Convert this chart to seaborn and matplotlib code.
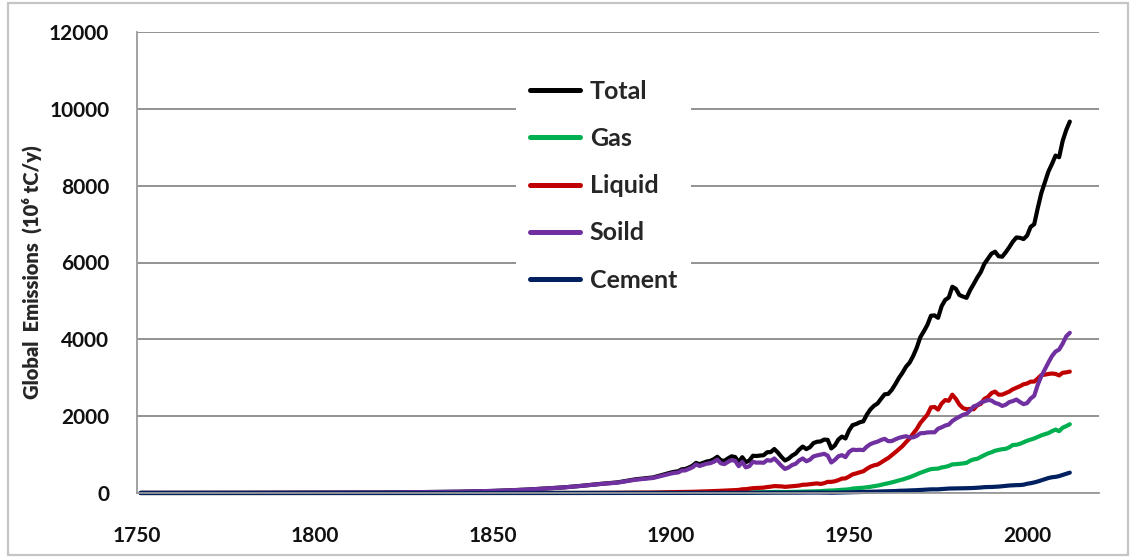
import numpy as np
import pandas as pd
import seaborn as sns
import matplotlib
matplotlib.use("Agg")
import matplotlib.pyplot as plt
from matplotlib.patches import Rectangle

# Global fossil-fuel carbon emissions by source (million tonnes C per year)
years = ([1751, 1760, 1770, 1780, 1790, 1800, 1810, 1820, 1830, 1840,
          1850, 1855, 1860, 1865, 1870, 1875, 1880, 1885, 1890, 1895]
         + list(range(1900, 2013)))

total = [3, 3, 4, 5, 7, 8, 10, 14, 24, 33,
         54, 71, 91, 119, 147, 188, 236, 277, 356, 406,
         # 1900-1949
         534, 552, 566, 617, 624, 663, 707, 784, 750, 785,
         819, 836, 879, 943, 850, 838, 901, 955, 936, 806,
         932, 803, 845, 970, 963, 975, 983, 1062, 1065, 1145,
         1053, 940, 847, 893, 973, 1027, 1130, 1209, 1142, 1192,
         1299, 1334, 1342, 1391, 1383, 1160, 1238, 1392, 1469, 1419,
         # 1950-1999
         1630, 1767, 1795, 1841, 1865, 2042, 2177, 2270, 2330, 2454,
         2569, 2580, 2686, 2833, 2995, 3130, 3288, 3393, 3566, 3780,
         4053, 4208, 4376, 4614, 4623, 4560, 4864, 5026, 5087, 5369,
         5315, 5152, 5113, 5080, 5280, 5439, 5607, 5752, 5965, 6097,
         6230, 6280, 6164, 6150, 6266, 6398, 6542, 6651, 6643, 6610,
         # 2000-2012
         6700, 6927, 6996, 7416, 7807, 8093, 8370, 8566, 8783, 8740,
         9167, 9449, 9668]

gas = [0, 0, 0, 0, 0, 0, 0, 0, 0, 0,
       0, 0, 0, 0, 0, 0, 0, 1, 3, 3,
       3, 3, 4, 4, 4, 5, 5, 6, 6, 6,
       7, 7, 8, 8, 8, 9, 10, 10, 10, 10,
       11, 10, 12, 15, 17, 18, 19, 21, 23, 28,
       28, 25, 24, 25, 28, 30, 33, 36, 36, 38,
       42, 45, 48, 55, 62, 65, 68, 76, 84, 89,
       97, 115, 124, 131, 138, 150, 161, 178, 192, 212,
       235, 254, 277, 300, 328, 351, 380, 410, 446, 487,
       525, 560, 592, 622, 630, 635, 665, 680, 705, 745,
       750, 760, 770, 785, 840, 875, 890, 940, 985, 1030,
       1060, 1100, 1120, 1140, 1150, 1190, 1250, 1255, 1280, 1320,
       1360, 1390, 1420, 1460, 1500, 1530, 1560, 1610, 1650, 1610,
       1700, 1740, 1790]

liquid = [0, 0, 0, 0, 0, 0, 0, 0, 0, 0,
          0, 0, 0, 0, 1, 1, 3, 6, 9, 12,
          23, 24, 25, 26, 28, 30, 31, 34, 38, 40,
          44, 47, 50, 55, 58, 62, 66, 72, 73, 80,
          97, 100, 112, 125, 130, 135, 140, 155, 165, 180,
          175, 172, 160, 168, 175, 185, 195, 215, 218, 230,
          240, 250, 235, 255, 290, 290, 305, 335, 375, 380,
          430, 485, 510, 540, 565, 630, 685, 720, 740, 795,
          855, 910, 985, 1060, 1140, 1220, 1325, 1420, 1545, 1665,
          1820, 1930, 2040, 2230, 2240, 2170, 2330, 2420, 2400, 2560,
          2450, 2300, 2210, 2180, 2190, 2180, 2280, 2320, 2450, 2500,
          2600, 2640, 2560, 2560, 2600, 2640, 2700, 2740, 2780, 2830,
          2850, 2900, 2900, 2980, 3070, 3080, 3100, 3110, 3100, 3060,
          3130, 3140, 3160]

solid = [3, 3, 4, 5, 7, 8, 10, 14, 24, 33,
         54, 71, 91, 119, 146, 187, 232, 270, 345, 392,
         507, 524, 534, 585, 588, 627, 667, 742, 704, 733,
         763, 776, 812, 869, 771, 752, 810, 857, 838, 698,
         810, 667, 698, 813, 789, 793, 787, 856, 839, 899,
         807, 708, 626, 664, 728, 761, 846, 899, 826, 867,
         952, 978, 998, 1019, 973, 794, 862, 956, 985, 934,
         1070, 1129, 1119, 1125, 1116, 1208, 1273, 1309, 1337, 1381,
         1410, 1349, 1351, 1396, 1435, 1460, 1478, 1448, 1448, 1486,
         1556, 1559, 1576, 1581, 1579, 1673, 1710, 1756, 1780, 1875,
         1935, 1986, 2036, 2061, 2148, 2255, 2287, 2353, 2388, 2420,
         2407, 2346, 2318, 2266, 2298, 2366, 2393, 2432, 2368, 2313,
         2340, 2459, 2531, 2817, 3041, 3220, 3398, 3564, 3682, 3734,
         3888, 4080, 4170]

cement = [0, 0, 0, 0, 0, 0, 0, 0, 0, 0,
          0, 0, 0, 0, 0, 0, 0, 0, 0, 1,
          2, 2, 2, 3, 3, 3, 3, 4, 4, 4,
          4, 4, 5, 5, 4, 4, 4, 4, 3, 4,
          5, 5, 6, 6, 7, 7, 8, 8, 9, 9,
          9, 8, 7, 7, 8, 9, 10, 11, 11, 12,
          11, 12, 12, 11, 10, 7, 9, 10, 12, 13,
          18, 20, 22, 24, 27, 30, 32, 35, 38, 41,
          43, 45, 49, 51, 57, 59, 63, 66, 71, 74,
          78, 84, 89, 95, 96, 95, 103, 108, 116, 119,
          120, 121, 121, 125, 128, 131, 137, 143, 152, 156,
          157, 161, 167, 176, 186, 195, 200, 205, 207, 216,
          240, 255, 275, 300, 330, 360, 390, 410, 420, 440,
          470, 500, 530]

series_names = ["Total", "Gas", "Liquid", "Soild", "Cement"]
series_colors = ["#000000", "#00B050", "#C00000", "#7030A0", "#002060"]
x_ticks = [1750, 1800, 1850, 1900, 1950, 2000]
y_ticks = [0, 2000, 4000, 6000, 8000, 10000, 12000]

frames = []
for name, vals in zip(series_names, [total, gas, liquid, solid, cement]):
    frames.append(pd.DataFrame({"Year": years, "Emissions": vals, "Source": name}))
df = pd.concat(frames, ignore_index=True)

sns.set_style("white")
plt.rcParams["font.family"] = ["Lato", "DejaVu Sans"]
plt.rcParams["font.weight"] = "bold"

W, H = 1133, 558
fig = plt.figure(figsize=(W / 100, H / 100), dpi=100)
ax = fig.add_axes([137 / W, 1 - 493 / H, (1099 - 137) / W, (493 - 32) / H])

sns.lineplot(data=df, x="Year", y="Emissions", hue="Source",
             hue_order=series_names, palette=dict(zip(series_names, series_colors)),
             linewidth=3.0, estimator=None, ax=ax, legend=True)
for ln in ax.get_lines():
    ln.set_clip_on(False)
    ln.set_solid_capstyle("round")
    ln.set_solid_joinstyle("round")

ax.set_xlim(1750, 2020.2)
ax.set_ylim(0, 12000)
ax.set_xticks(x_ticks)
ax.set_yticks(y_ticks)
ax.yaxis.grid(True, color="#8a8a8a", linewidth=1.3)
ax.xaxis.grid(False)
ax.set_axisbelow(True)

for side in ["top", "right"]:
    ax.spines[side].set_visible(False)
for side in ["left", "bottom"]:
    ax.spines[side].set_color("#9a9a9a")
    ax.spines[side].set_linewidth(1.3)

ax.tick_params(axis="both", which="major", direction="out", length=6,
               width=1.0, color="#8a8a8a", labelsize=15, labelcolor="#111111")
ax.tick_params(axis="x", pad=18)
ax.tick_params(axis="y", pad=14)
for lab in ax.get_xticklabels() + ax.get_yticklabels():
    lab.set_fontweight("bold")

ax.set_xlabel("")
ax.set_ylabel("Global  Emissions  (10\u2076 tC/y)", fontsize=14.5, fontweight="heavy",
              family="Lato", labelpad=5)
ax.yaxis.set_label_coords(-0.099, 0.48)

handles, labels = ax.get_legend_handles_labels()
leg = ax.legend(handles, labels, loc="upper left",
                bbox_to_anchor=(516 / W, 1 - 66 / H), bbox_transform=fig.transFigure,
                borderaxespad=0, frameon=True, framealpha=1, facecolor="white",
                edgecolor="none", fancybox=False, prop={"size": 18, "weight": "bold"},
                handlelength=2.0, handletextpad=0.4, labelspacing=0.97, borderpad=0.55)
for h in leg.get_lines():
    h.set_linewidth(3.6)

# light border around the whole figure
fig.patches.append(Rectangle((8 / W, 3 / H), (1128 - 8) / W, (555 - 3) / H,
                             transform=fig.transFigure, fill=False,
                             edgecolor="#c4c4c4", linewidth=1.6))

fig.savefig("out.png", dpi=100, facecolor="white")
